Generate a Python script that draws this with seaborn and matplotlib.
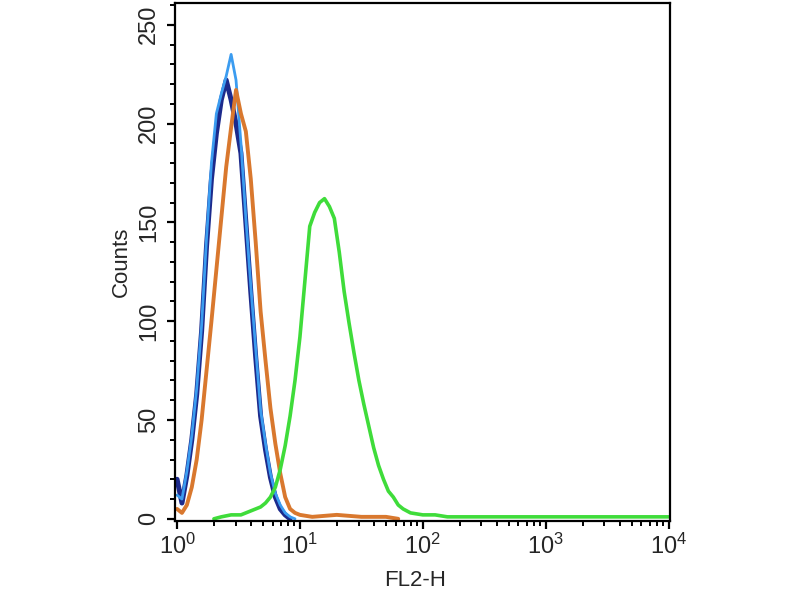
import numpy as np
import pandas as pd
import seaborn as sns
import matplotlib.pyplot as plt
from matplotlib.ticker import LogLocator, MultipleLocator

# channel positions are in decades (log10 of FL2-H)
navy_log = [0.00, 0.04, 0.08, 0.12, 0.16, 0.20, 0.24, 0.28, 0.32, 0.36, 0.40, 0.44,
            0.48, 0.52, 0.56, 0.60, 0.64, 0.68, 0.72, 0.76, 0.80, 0.84, 0.88, 0.92]
navy_counts = [20, 8, 22, 40, 63, 95, 138, 172, 195, 212, 222, 212,
               200, 185, 150, 115, 82, 52, 35, 21, 11, 5, 2, 0]

lblue_log = [0.00, 0.04, 0.08, 0.12, 0.16, 0.20, 0.24, 0.28, 0.32, 0.36, 0.40, 0.44,
             0.48, 0.52, 0.56, 0.60, 0.64, 0.68, 0.72, 0.76, 0.80, 0.84, 0.88, 0.92, 0.96]
lblue_counts = [12, 10, 24, 42, 66, 98, 142, 180, 205, 215, 224, 235,
                222, 190, 152, 118, 86, 55, 38, 23, 13, 7, 3, 1, 0]

orange_log = [0.00, 0.04, 0.08, 0.12, 0.16, 0.20, 0.24, 0.28, 0.32, 0.36, 0.40, 0.44,
              0.48, 0.52, 0.56, 0.60, 0.64, 0.68, 0.72, 0.76, 0.80, 0.84, 0.88, 0.92,
              0.96, 1.00, 1.10, 1.30, 1.50, 1.70, 1.80]
orange_counts = [5, 3, 7, 16, 30, 50, 75, 100, 126, 152, 178, 198,
                 217, 205, 196, 172, 140, 105, 80, 56, 38, 23, 11, 5,
                 3, 2, 1, 2, 1, 1, 0]

green_log = [0.30, 0.36, 0.44, 0.52, 0.60, 0.68, 0.72, 0.76, 0.80, 0.84, 0.88, 0.92,
             0.96, 1.00, 1.04, 1.08, 1.12, 1.16, 1.20, 1.24, 1.28, 1.32, 1.36, 1.40,
             1.44, 1.48, 1.52, 1.56, 1.60, 1.64, 1.68, 1.72, 1.76, 1.80, 1.84, 1.90,
             2.00, 2.10, 2.20, 2.30, 4.00]
green_counts = [0, 1, 2, 2, 4, 6, 8, 11, 16, 25, 37, 52,
                70, 92, 120, 148, 155, 160, 162, 158, 152, 135, 115, 99,
                84, 70, 58, 47, 36, 27, 20, 14, 11, 7, 5, 3,
                2, 2, 1, 1, 1]

series = [
    ('navy', navy_log, navy_counts, '#1c2a8c', 3.6),
    ('lightblue', lblue_log, lblue_counts, '#3b9cf0', 2.0),
    ('orange', orange_log, orange_counts, '#d9782e', 2.8),
    ('green', green_log, green_counts, '#3fdc3a', 2.6),
]

sns.set_style('ticks')
plt.rcParams['font.family'] = ['Liberation Sans', 'DejaVu Sans']

fig = plt.figure(figsize=(8, 6), dpi=100)
ax = fig.add_axes([0.219, 0.132, 0.619, 0.863])
ax.set_xscale('log')

for name, lg, cnt, col, lw in series:
    df = pd.DataFrame({'FL2-H': 10 ** np.array(lg), 'Counts': cnt})
    sns.lineplot(data=df, x='FL2-H', y='Counts', ax=ax, color=col, lw=lw,
                 estimator=None, sort=False)

ax.set_xlim(10 ** -0.015, 10 ** 4.015)
ax.set_ylim(-1, 261)

ax.xaxis.set_major_locator(LogLocator(base=10, numticks=10))
ax.xaxis.set_minor_locator(LogLocator(base=10, subs=np.arange(2, 10), numticks=10))
ax.yaxis.set_major_locator(MultipleLocator(50))
ax.yaxis.set_minor_locator(MultipleLocator(10))

ax.tick_params(axis='both', which='major', length=6, width=1.6, labelsize=17,
               direction='out', color='black')
ax.tick_params(axis='both', which='minor', length=3.5, width=1.4,
               direction='out', color='black')
ax.tick_params(axis='y', which='major', pad=5)
ax.tick_params(axis='x', which='major', pad=3)
for lab in ax.get_yticklabels():
    lab.set_rotation(90)
    lab.set_va('center')

for sp in ax.spines.values():
    sp.set_linewidth(1.6)
    sp.set_color('black')

ax.set_xlabel('FL2-H', fontsize=16)
ax.set_ylabel('Counts', fontsize=16, labelpad=4)
ax.xaxis.set_label_coords(0.485, -0.095)

fig.savefig('out.png', dpi=100)
